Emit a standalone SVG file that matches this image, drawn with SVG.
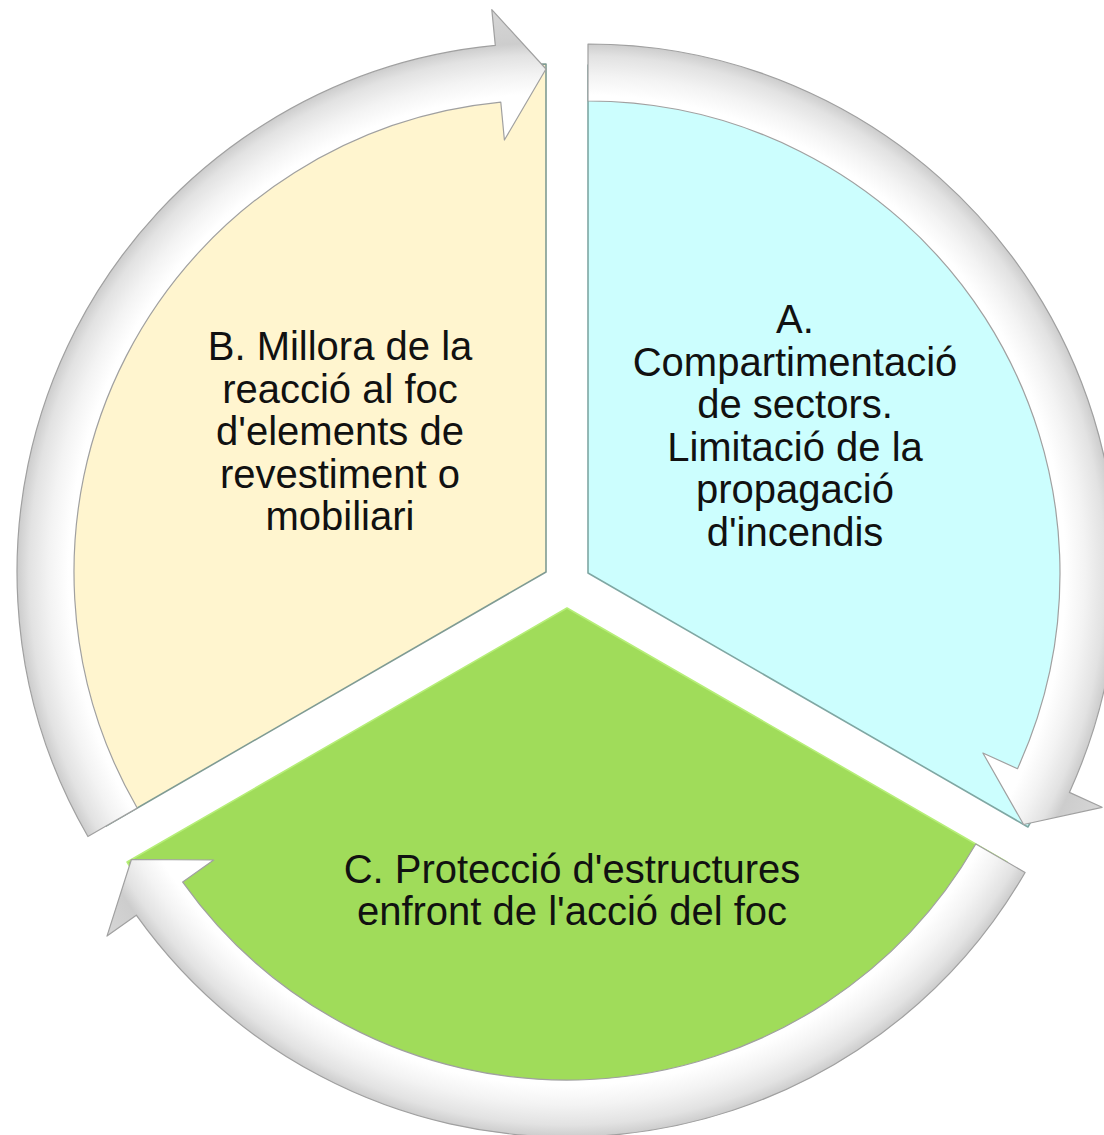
<svg xmlns="http://www.w3.org/2000/svg" width="1104" height="1135" viewBox="0 0 1104 1135">
<style>
.lbl{font-family:"Liberation Sans",Arial,sans-serif;font-size:40px;fill:#111111;text-anchor:middle}
.sec{stroke-width:1.6;stroke-linejoin:round}
.arr{stroke:#a0a0a0;stroke-width:1.2;stroke-linejoin:round}
</style>
<defs>
<radialGradient id="gB" gradientUnits="userSpaceOnUse" cx="546" cy="572" r="565">
<stop offset="0.80" stop-color="#ffffff"/><stop offset="0.845" stop-color="#ffffff"/><stop offset="0.88" stop-color="#f3f3f3"/><stop offset="0.915" stop-color="#e2e2e2"/><stop offset="0.936" stop-color="#cdcdcd"/><stop offset="1" stop-color="#d6d6d6"/>
</radialGradient>
<radialGradient id="gA" gradientUnits="userSpaceOnUse" cx="588" cy="573" r="565">
<stop offset="0.80" stop-color="#ffffff"/><stop offset="0.845" stop-color="#ffffff"/><stop offset="0.88" stop-color="#f3f3f3"/><stop offset="0.915" stop-color="#e2e2e2"/><stop offset="0.936" stop-color="#cdcdcd"/><stop offset="1" stop-color="#d6d6d6"/>
</radialGradient>
<radialGradient id="gC" gradientUnits="userSpaceOnUse" cx="567" cy="608" r="565">
<stop offset="0.80" stop-color="#ffffff"/><stop offset="0.845" stop-color="#ffffff"/><stop offset="0.88" stop-color="#f3f3f3"/><stop offset="0.915" stop-color="#e2e2e2"/><stop offset="0.936" stop-color="#cdcdcd"/><stop offset="1" stop-color="#d6d6d6"/>
</radialGradient>
</defs>
<rect width="1104" height="1135" fill="#ffffff"/>

<g id="nodeB">
<path class="sec" d="M546,572 L106.1,826 A508,508 0 0 1 546,64 Z" fill="#fff5cf" stroke="#7f9b93"/>
<text class="lbl"><tspan x="340" y="360">B. Millora de la</tspan><tspan x="340" y="402.5">reacció al foc</tspan><tspan x="340" y="445">d'elements de</tspan><tspan x="340" y="487.5">revestiment o</tspan><tspan x="340" y="530">mobiliari</tspan></text>
</g>

<g id="nodeA">
<path class="sec" d="M588,573 L588,65 A508,508 0 0 1 1027.9,827 Z" fill="#ccfefe" stroke="#7fa7a3"/>
<text class="lbl"><tspan x="795" y="333">A.</tspan><tspan x="795" y="375.6">Compartimentació</tspan><tspan x="795" y="418">de sectors.</tspan><tspan x="795" y="460.6">Limitació de la</tspan><tspan x="795" y="503">propagació</tspan><tspan x="795" y="545.6">d'incendis</tspan></text>
</g>

<g id="nodeC">
<path class="sec" d="M567,608 L1006.9,862 A508,508 0 0 1 127.1,862 Z" fill="#a0dc5a" stroke="#b6ee78"/>
<text class="lbl"><tspan x="572" y="882.6">C. Protecció d'estructures</tspan><tspan x="572" y="925">enfront de l'acció del foc</tspan></text>
</g>

<g id="connectors">
<path class="arr" fill="url(#gB)" d="M87.9,836.5 A529,529 0 0 1 495.3,45.4 L491.8,9.6 L546,69 L504.4,140 L500.8,102.2 A472,472 0 0 0 137.2,808 Z"/>
<path class="arr" fill="url(#gA)" d="M588,44 A529,529 0 0 1 1069.4,792.4 L1102.1,807.3 L1023.6,824.5 L982.9,753 L1017.5,768.7 A472,472 0 0 0 588,101 Z"/>
<path class="arr" fill="url(#gC)" d="M1025.1,872.5 A529,529 0 0 1 136.3,915.2 L107,936.1 L131.4,859.5 L213.7,860 L182.7,882.1 A472,472 0 0 0 975.8,844 Z"/>
</g>
</svg>
